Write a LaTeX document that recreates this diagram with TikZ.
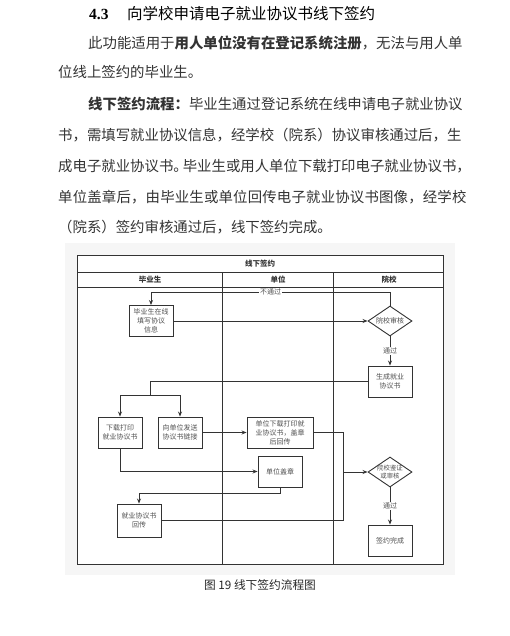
\documentclass[tikz,border=0pt]{standalone}
\usepackage{fontspec}
\setmainfont{Liberation Serif}
\newfontfamily\cjk{Noto Sans CJK SC}
\usepackage{tikz}
\usetikzlibrary{shapes.geometric, arrows.meta, positioning, calc}
\definecolor{lineg}{RGB}{51,51,51}
\definecolor{txtg}{RGB}{80,80,80}
\definecolor{bgg}{RGB}{246,246,246}

\begin{document}
\begin{tikzpicture}[x=1pt, y=-1pt,
  para/.style={anchor=west, inner sep=0pt, font=\fontsize{14.4}{16}\cjk, text=black!80},
  head/.style={anchor=west, inner sep=0pt, font=\fontsize{15.5}{17}\cjk, text=black},
  box/.style={draw=lineg, fill=white, line width=0.9pt, minimum width=44pt, minimum height=31pt, inner sep=1pt, align=center, font=\fontsize{7}{9}\cjk, text=txtg},
  dia/.style={draw=lineg, fill=white, line width=0.9pt, diamond, aspect=1.47, minimum width=44pt, minimum height=30pt, inner sep=0pt, align=center, font=\fontsize{7}{9}\cjk, text=txtg},
  lanehead/.style={font=\fontsize{7.5}{9}\cjk\bfseries, text=lineg},
  arr/.style={-{Stealth[length=5pt, width=4pt]}, line width=0.8pt, draw=lineg},
  conn/.style={line width=0.8pt, draw=lineg},
  lbl/.style={fill=white, inner sep=0.8pt, font=\fontsize{7}{8}\cjk, text=txtg}
]
\useasboundingbox (0,0) rectangle (509,636);

% Section text
\node[head, font=\fontsize{15.5}{17}\selectfont\bfseries] (secnum) at (89,14) {4.3};
\node[head] (sectitle) at (127,14) {向学校申请电子就业协议书线下签约};
\node[para] (p1) at (88,43)  {此功能适用于\textbf{用人单位没有在登记系统注册}，无法与用人单};
\node[para] (p2) at (58,72)  {位线上签约的毕业生。};
\node[para] (p3) at (88,104) {\textbf{线下签约流程：}毕业生通过登记系统在线申请电子就业协议};
\node[para] (p4) at (58,135) {书，需填写就业协议信息，经学校（院系）协议审核通过后，生};
\node[para] (p5) at (58,166) {成电子就业协议书。\kern-5pt 毕业生或用人单位下载打印电子就业协议书，};
\node[para] (p6) at (58,197) {\addfontfeature{LetterSpace=1.3}单位盖章后，由毕业生或单位回传电子就业协议书图像，经学校};
\node[para] (p7) at (58,227) {（院系）签约审核通过后，线下签约完成。};

% Pool and lanes
\fill[bgg] (65,243) rectangle (455,575);
\draw[lineg, line width=1pt, fill=white] (77,255) rectangle (443,564);
\draw[lineg, line width=1pt] (77,272) -- (443,272) (77,287) -- (443,287)
  (222,272) -- (222,564) (333,272) -- (333,564);
\node[lanehead] (pool)    at (260,263.5) {线下签约};
\node[lanehead] (lgrad)   at (150,279.5) {毕业生};
\node[lanehead] (lunit)   at (278,279.5) {单位};
\node[lanehead] (lschool) at (389,279.5) {院校};

% Steps
\node[box] (fill)   at (151,321)   {毕业生在线\\填写协议\\信息};
\node[dia] (audit)  at (390,321)   {院校审核};
\node[box] (gen)    at (390,381.5) {生成就业\\协议书};
\node[box] (print)  at (120,432.5) {下载打印\\就业协议书};
\node[box] (send)   at (180,432.5) {向单位发送\\协议书链接};
\node[box, minimum width=66pt] (unitdl) at (280,432.5) {单位下载打印就\\业协议书，盖章\\后回传};
\node[box] (stamp)  at (280,471.5) {单位盖章};
\node[dia, inner sep=-3.5pt, font=\fontsize{6.4}{8.4}\cjk] (verify) at (390,472) {院校鉴证\\或审核};
\node[box, minimum height=33pt] (upload) at (139,520.5) {就业协议书\\回传};
\node[box] (done)   at (390,540.5) {签约完成};

% Bend points
\coordinate (rej)   at (0,292);
\coordinate (split) at (150,395);
\coordinate (merge) at (343,472);
\coordinate (ret)   at (0,493);

% Connectors
\draw[arr] (audit.north) -- (audit.north |- rej) -| node[lbl, pos=0.25]{不通过} (fill.north);
\draw[arr] (fill.east) -- (audit.west);
\draw[arr] (audit.south) -- node[lbl]{通过} (gen.north);
\draw[conn] (gen.west) -| (split);
\draw[arr] (split) -| (print.north);
\draw[arr] (split) -| (send.north);
\draw[arr] (send.east) -- (unitdl.west);
\draw[arr] (print.south) |- (stamp.west);
\draw[arr] (stamp.south) -- (stamp.south |- ret) -| (upload.north);
\draw[conn] (unitdl.east) -| (merge);
\draw[conn] (upload.east) -| (merge);
\draw[arr] (merge) -- (verify.west);
\draw[arr] (verify.south) -- node[lbl]{通过} (done.north);

% Caption
\node[font=\fontsize{11.7}{14}\cjk, text=black!85] (cap) at (260,585) {图 19 线下签约流程图};

\end{tikzpicture}
\end{document}
